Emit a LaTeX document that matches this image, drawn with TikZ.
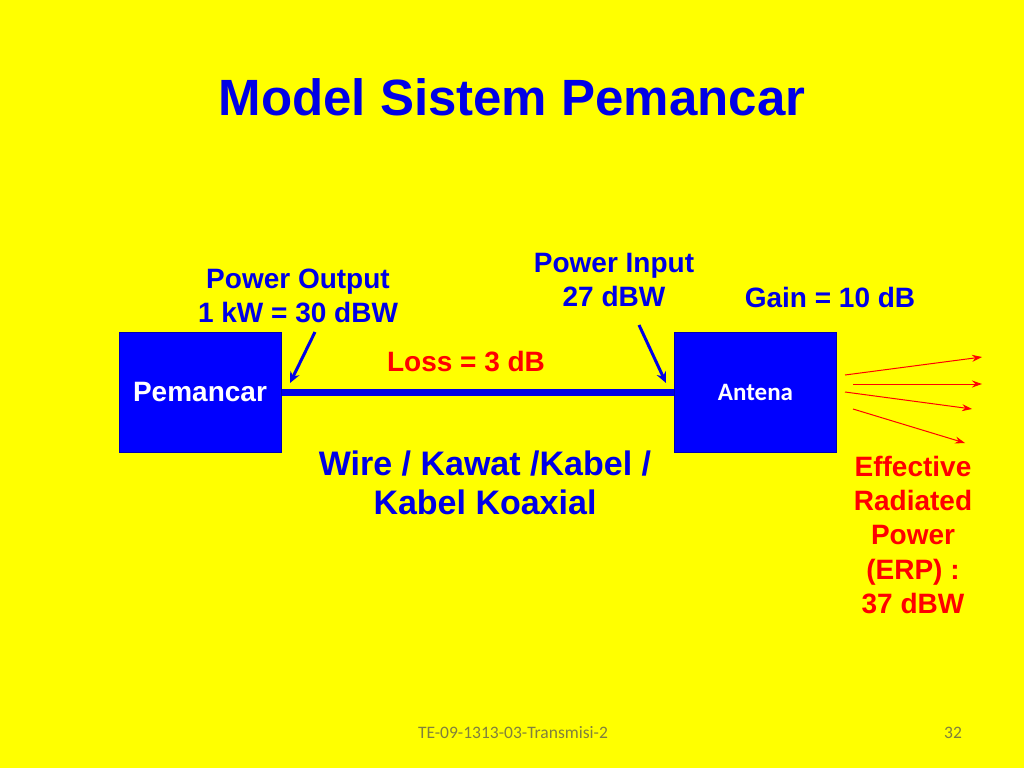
\documentclass[tikz,border=0pt]{standalone}
\usepackage{fontspec}
\setmainfont{Liberation Sans}
\newfontfamily\calib{Carlito}
\usetikzlibrary{arrows.meta}
\definecolor{bg}{RGB}{255,255,0}
\definecolor{tblue}{RGB}{0,0,230}
\definecolor{bblue}{RGB}{0,0,255}
\definecolor{tred}{RGB}{255,0,0}
\definecolor{foot}{RGB}{128,128,60}
\tikzset{
  box/.style={draw=bblue!70!black, line width=1pt, fill=bblue, minimum width=162pt, minimum height=120pt, inner sep=0pt},
  lbl/.style={text=tblue, font=\bfseries\fontsize{28}{33.5}\selectfont, align=center, inner sep=0pt},
  rlbl/.style={text=tred, font=\bfseries\fontsize{28}{34.3}\selectfont, align=center, inner sep=0pt},
  barrow/.style={draw=tblue, line width=3pt, -{Stealth[length=11pt,width=10pt]}},
  rarrow/.style={draw=tred, line width=1pt, -{Stealth[length=10pt,width=7pt]}},
}
\begin{document}
\begin{tikzpicture}[x=1pt,y=-1pt]
\fill[bg] (0,0) rectangle (1024,768);
\useasboundingbox (0,0) rectangle (1024,768);
\node[text=tblue, font=\bfseries\fontsize{51}{56}\selectfont, inner sep=0pt] (title) at (512,97) {Model Sistem Pemancar};
\node[box] (tx) at (200,392) {};
\node[text=white, font=\bfseries\fontsize{28}{32}\selectfont] at (tx.center) {Pemancar};
\node[box] (ant) at (755.5,392) {};
\node[text=white, font=\calib\bfseries\fontsize{25}{28}\selectfont] at (ant.center) {Antena};
\draw[tblue, line width=7pt] (tx.east) -- (ant.west);
\node[rlbl] (loss) at (466,362) {Loss = 3 dB};
\node[lbl] (pout) at (298,296) {Power Output\\1 kW = 30 dBW};
\node[lbl] (pin) at (614,280) {Power Input\\27 dBW};
\node[lbl] (gain) at (830,297) {Gain = 10 dB};
\coordinate (a1s) at (315,332);
\coordinate (a1e) at (290,383);
\coordinate (a2s) at (639,325);
\coordinate (a2e) at (666,383);
\draw[barrow] (a1s) -- (a1e);
\draw[barrow] (a2s) -- (a2e);
\node[text=tblue, font=\bfseries\fontsize{34}{39}\selectfont, align=center, inner sep=0pt] (wire) at (485,483) {Wire / Kawat /Kabel /\\Kabel Koaxial};
\coordinate (r1s) at (845,375); \coordinate (r1e) at (982,357);
\coordinate (r2s) at (853,384); \coordinate (r2e) at (982,384);
\coordinate (r3s) at (845,392); \coordinate (r3e) at (972,409);
\coordinate (r4s) at (853,409); \coordinate (r4e) at (965,443);
\draw[rarrow] (r1s) -- (r1e);
\draw[rarrow] (r2s) -- (r2e);
\draw[rarrow] (r3s) -- (r3e);
\draw[rarrow] (r4s) -- (r4e);
\node[rlbl] (erp) at (913,535) {Effective\\Radiated\\Power\\(ERP) :\\37 dBW};
\node[text=foot, font=\calib\fontsize{17.5}{20}\selectfont] (ft) at (513,733) {TE-09-1313-03-Transmisi-2};
\node[text=foot, font=\calib\fontsize{17.5}{20}\selectfont] (pg) at (953,733) {32};
\end{tikzpicture}
\end{document}
